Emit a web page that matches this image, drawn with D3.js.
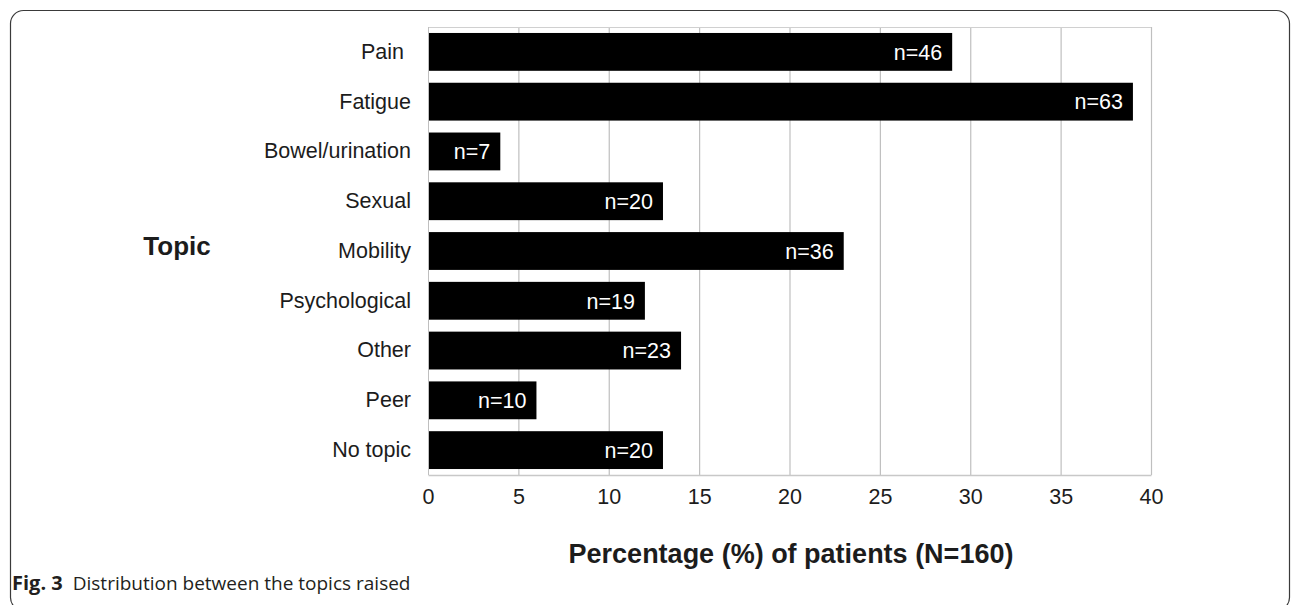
<!DOCTYPE html>
<html>
<head>
<meta charset="utf-8">
<script src="https://cdn.jsdelivr.net/npm/d3@7"></script>
<style>
  body { margin: 0; background: #fff; }
  svg { display: block; }
</style>
</head>
<body>
<div id="chart"></div>
<script>
// topics, percentage of patients, and counts
var topics = ['Pain', 'Fatigue', 'Bowel/urination', 'Sexual', 'Mobility', 'Psychological', 'Other', 'Peer', 'No topic'];
var percents = [29, 39, 4, 13, 23, 12, 14, 6, 13];
var counts = [46, 63, 7, 20, 36, 19, 23, 10, 20];
var xTicks = [0, 5, 10, 15, 20, 25, 30, 35, 40];

var width = 1292, height = 605;
var margin = { top: 27, right: 141, bottom: 130, left: 428 };

var svg = d3.select('#chart')
  .append('svg')
  .attr('width', width)
  .attr('height', height);

// rounded frame around the figure
svg.append('rect')
  .attr('x', 10.5).attr('y', 10.5)
  .attr('width', 1279).attr('height', 600)
  .attr('rx', 13)
  .attr('fill', 'none')
  .attr('stroke', '#3a3a3a')
  .attr('stroke-width', 1.2);

var x = d3.scaleLinear()
  .domain([0, 40])
  .range([margin.left, width - margin.right]);

var y = d3.scaleBand()
  .domain(topics)
  .range([margin.top, height - margin.bottom])
  .paddingInner(0.24)
  .paddingOuter(0.12);

var font = 'Liberation Sans, Arial, Helvetica, sans-serif';
var ink = '#1c1c1c';
var fs = 21.5;

// grid lines
svg.append('g').selectAll('line')
  .data(xTicks.slice(1))
  .enter().append('line')
  .attr('x1', function (d) { return x(d) + 0.5; })
  .attr('x2', function (d) { return x(d) + 0.5; })
  .attr('y1', margin.top)
  .attr('y2', height - margin.bottom)
  .attr('stroke', '#bfbfbf')
  .attr('stroke-width', 1.2);

// top border and left axis line
svg.append('line')
  .attr('x1', x(0)).attr('x2', x(40))
  .attr('y1', margin.top + 0.5).attr('y2', margin.top + 0.5)
  .attr('stroke', '#d0d0d0');
svg.append('line')
  .attr('x1', x(0) + 0.5).attr('x2', x(0) + 0.5)
  .attr('y1', margin.top).attr('y2', height - margin.bottom)
  .attr('stroke', '#bfbfbf');

// x axis
var xAxis = svg.append('g')
  .attr('transform', 'translate(0,' + (height - margin.bottom) + ')')
  .call(d3.axisBottom(x).tickValues(xTicks).tickSize(0).tickPadding(14));
xAxis.select('.domain').attr('stroke', '#c8c8c8').attr('stroke-width', 1.5);
xAxis.selectAll('text')
  .attr('font-family', font)
  .attr('font-size', fs)
  .attr('fill', ink);

// y axis labels
var yAxis = svg.append('g')
  .attr('transform', 'translate(' + (margin.left - 17) + ',0)')
  .call(d3.axisLeft(y).tickSize(0).tickPadding(0));
yAxis.select('.domain').remove();
yAxis.selectAll('text')
  .attr('font-family', font)
  .attr('font-size', fs)
  .attr('fill', ink)
  .attr('dx', function (d) { return d === 'Pain' ? -7 : 0; });

// bars
var rows = topics.map(function (t, i) {
  return { topic: t, pct: percents[i], n: counts[i] };
});

svg.append('g').selectAll('rect')
  .data(rows)
  .enter().append('rect')
  .attr('x', x(0) + 1)
  .attr('y', function (d) { return y(d.topic); })
  .attr('width', function (d) { return x(d.pct) - x(0) - 1; })
  .attr('height', y.bandwidth())
  .attr('fill', '#000');

svg.append('g').selectAll('text')
  .data(rows)
  .enter().append('text')
  .attr('x', function (d) { return x(d.pct) - 10; })
  .attr('y', function (d) { return y(d.topic) + y.bandwidth() / 2; })
  .attr('dy', '0.36em')
  .attr('text-anchor', 'end')
  .attr('font-family', font)
  .attr('font-size', fs)
  .attr('fill', '#fff')
  .text(function (d) { return 'n=' + d.n; });

// axis titles
svg.append('text')
  .attr('x', 177).attr('y', 255)
  .attr('text-anchor', 'middle')
  .attr('font-family', font)
  .attr('font-weight', 'bold')
  .attr('font-size', 26)
  .attr('fill', ink)
  .text('Topic');

svg.append('text')
  .attr('x', 791).attr('y', 563)
  .attr('text-anchor', 'middle')
  .attr('font-family', font)
  .attr('font-weight', 'bold')
  .attr('font-size', 27)
  .attr('fill', ink)
  .text('Percentage (%) of patients (N=160)');

// caption
var cap = svg.append('text')
  .attr('x', 12).attr('y', 590)
  .attr('font-family', 'Open Sans, Noto Sans, sans-serif')
  .attr('font-size', 19)
  .attr('fill', '#231f20');
cap.append('tspan').attr('font-weight', 'bold').attr('font-size', 20).text('Fig. 3');
cap.append('tspan').attr('dx', 10).text('Distribution between the topics raised');
</script>
</body>
</html>
